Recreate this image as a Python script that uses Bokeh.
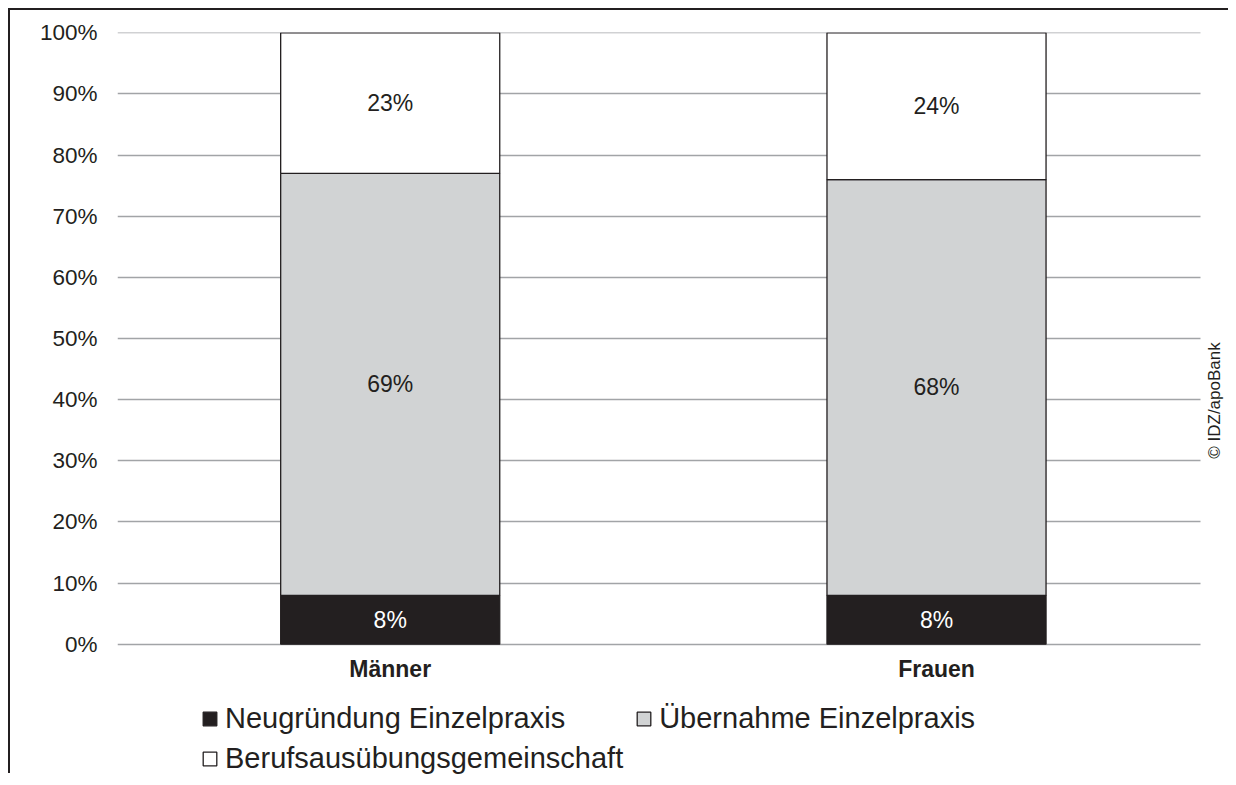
from bokeh.plotting import figure
from bokeh.models import (ColumnDataSource, Range1d, FixedTicker, PrintfTickFormatter,
                          Legend, LegendItem, Label)
from bokeh.core.properties import value
from bokeh.embed import file_html
from bokeh.resources import INLINE

# ---- data ----
categories = ["Männer", "Frauen"]
neugruendung = [8, 8]
uebernahme = [69, 68]
berufsausuebung = [23, 24]
series_names = ["Neugründung Einzelpraxis", "Übernahme Einzelpraxis", "Berufsausübungsgemeinschaft"]
y_ticks = list(range(0, 101, 10))
credit = "© IDZ/apoBank"

DARK = "#231f20"
colors = [DARK, "#d1d3d4", "#ffffff"]
FONT = "Liberation Sans"

positions = list(range(len(categories)))
source = ColumnDataSource(dict(x=positions, neu=neugruendung, ueb=uebernahme, ber=berufsausuebung))

# frame: canvas x 107..1220 (1113 px, 546.3 px/unit); canvas y 22..765 (743 px, 6.114 px/%)
X0, X1 = -0.4992, 1.4832
p = figure(width=1220, height=765, output_backend="svg", toolbar_location=None,
           x_range=Range1d(X0, X0 + 1113 / 546.3), y_range=Range1d(100.05 - 743 / 6.114, 100.05),
           min_border_left=107, min_border_right=0, min_border_top=22, min_border_bottom=0,
           margin=(8, 0, 0, 8),
           styles={"border-top": "2px solid " + DARK, "border-left": "2px solid " + DARK})
p.outline_line_color = None
p.background_fill_color = "white"

rs = p.vbar_stack(["neu", "ueb", "ber"], x="x", width=0.401, color=colors,
                  line_color=DARK, line_width=1.3, source=source)

# segment labels
lx, ly, lt, lc = [], [], [], []
for i, xp in enumerate(positions):
    bottom = 0
    for vals, col in zip([neugruendung, uebernahme, berufsausuebung], ["white", DARK, DARK]):
        v = vals[i]
        lx.append(xp)
        ly.append(bottom + v / 2)
        lt.append(f"{v}%")
        lc.append(col)
        bottom += v
p.text(x=lx, y=ly, text=lt, text_color=lc, text_align="center", text_baseline="middle",
       text_font=value(FONT), text_font_size="23px")

# axes
p.xaxis.fixed_location = 0
p.xaxis.ticker = FixedTicker(ticks=positions)
p.xaxis.major_label_overrides = {i: c for i, c in zip(positions, categories)}
p.xaxis.major_label_text_font = FONT
p.xaxis.major_label_text_font_style = "bold"
p.xaxis.major_label_text_font_size = "23px"
p.xaxis.major_label_text_color = DARK
p.xaxis.major_label_standoff = 12
p.xaxis.axis_line_color = None
p.xaxis.major_tick_line_color = None
p.xaxis.minor_tick_line_color = None
p.xaxis.major_tick_out = 0

p.yaxis.ticker = FixedTicker(ticks=y_ticks)
p.yaxis.formatter = PrintfTickFormatter(format="%d%%")
p.yaxis.major_label_text_font = FONT
p.yaxis.major_label_text_font_size = "22.5px"
p.yaxis.major_label_text_color = DARK
p.yaxis.major_label_standoff = 20
p.yaxis.axis_line_color = None
p.yaxis.major_tick_line_color = None
p.yaxis.minor_tick_line_color = None
p.yaxis.major_tick_out = 0

p.xgrid.grid_line_color = None
p.ygrid.ticker = FixedTicker(ticks=y_ticks)
p.ygrid.grid_line_color = "#a2a4a7"
p.ygrid.grid_line_width = 1.3
p.ygrid.cross_bounds = (X0, X1)

# legends
def mk_legend(items, loc):
    lg = Legend(items=items, location=loc, orientation="horizontal",
                label_text_font=FONT, label_text_font_size="29px", label_text_color=DARK,
                glyph_width=17, glyph_height=17, label_standoff=7, spacing=70,
                padding=0, margin=0, border_line_color=None, background_fill_alpha=0)
    p.add_layout(lg, "center")

mk_legend([LegendItem(label=series_names[0], renderers=[rs[0]]),
           LegendItem(label=series_names[1], renderers=[rs[1]])], (84, 40))
mk_legend([LegendItem(label=series_names[2], renderers=[rs[2]])], (84, 0))

p.add_layout(Label(x=1097, y=375, x_units="screen", y_units="screen", text=credit,
                   angle=1.5708, text_font=FONT, text_font_size="17px",
                   text_color=DARK, text_align="center", text_baseline="middle"))

open("out.html", "w").write(file_html(p, INLINE))
